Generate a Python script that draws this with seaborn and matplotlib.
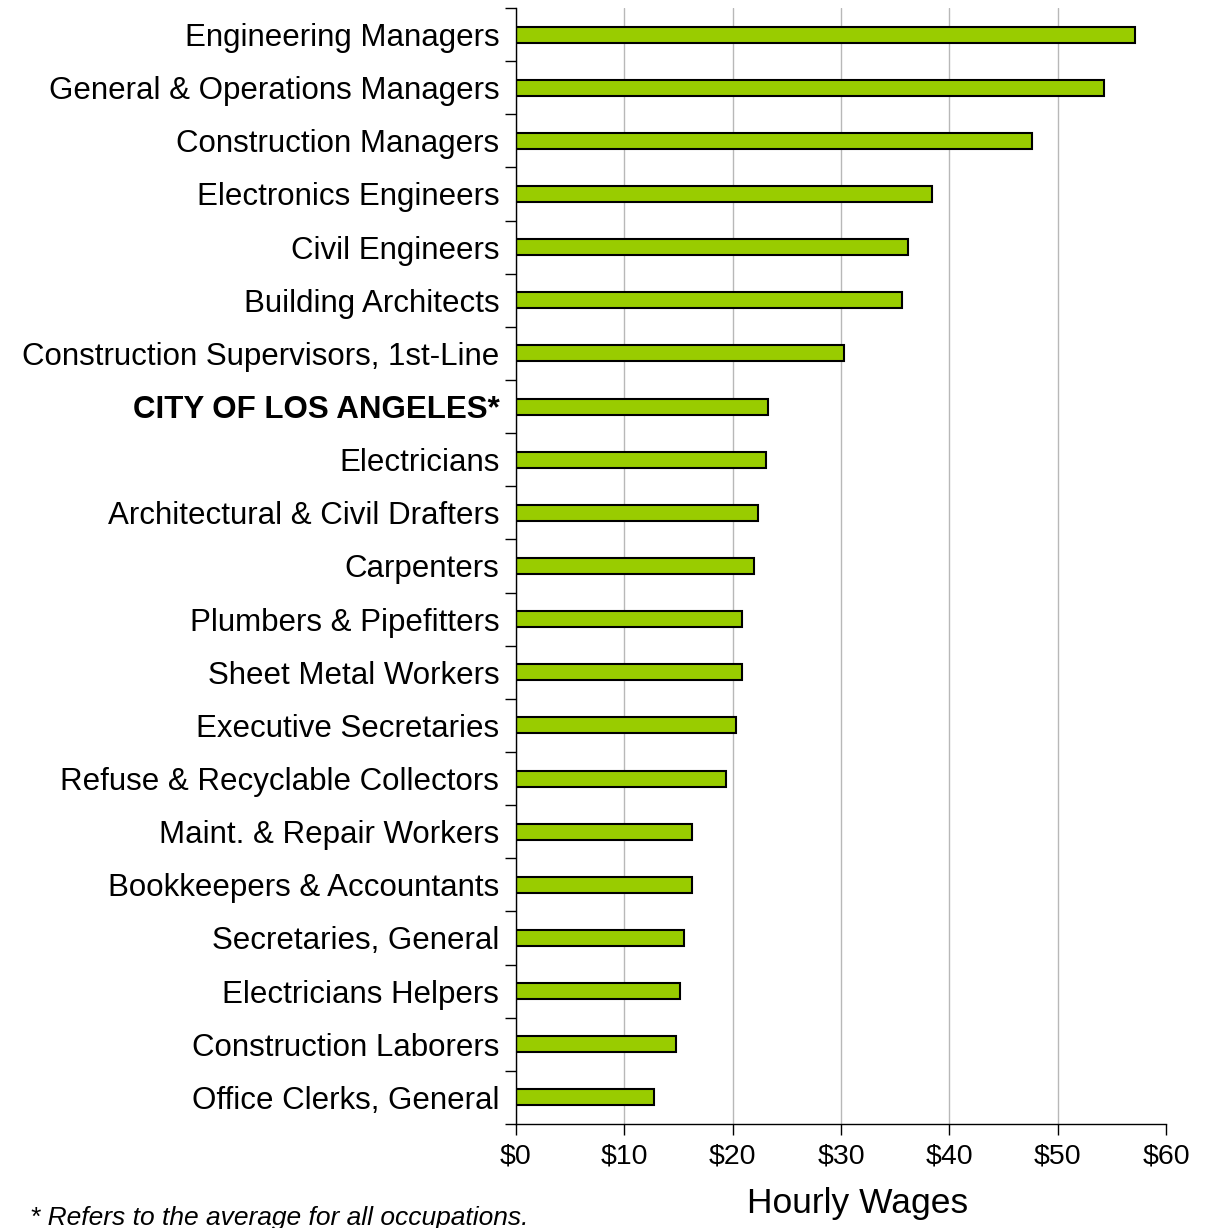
import matplotlib
matplotlib.use("Agg")
import matplotlib.pyplot as plt
import seaborn as sns
import pandas as pd
from matplotlib.ticker import FuncFormatter

occupations = [
    "Engineering Managers",
    "General & Operations Managers",
    "Construction Managers",
    "Electronics Engineers",
    "Civil Engineers",
    "Building Architects",
    "Construction Supervisors, 1st-Line",
    "CITY OF LOS ANGELES*",
    "Electricians",
    "Architectural & Civil Drafters",
    "Carpenters",
    "Plumbers & Pipefitters",
    "Sheet Metal Workers",
    "Executive Secretaries",
    "Refuse & Recyclable Collectors",
    "Maint. & Repair Workers",
    "Bookkeepers & Accountants",
    "Secretaries, General",
    "Electricians Helpers",
    "Construction Laborers",
    "Office Clerks, General",
]
hourly_wage = [57.1, 54.3, 47.6, 38.4, 36.2, 35.6, 30.3, 23.3, 23.1, 22.3, 22.0,
               20.9, 20.9, 20.3, 19.4, 16.25, 16.25, 15.5, 15.1, 14.8, 12.7]
x_ticks = [0, 10, 20, 30, 40, 50, 60]

df = pd.DataFrame({"occupation": occupations, "wage": hourly_wage})

sns.set_style("white")
plt.rcParams['font.family'] = ['Liberation Sans', 'DejaVu Sans']
plt.rcParams['text.color'] = 'black'
plt.rcParams['xtick.color'] = 'black'
plt.rcParams['ytick.color'] = 'black'
plt.rcParams['axes.labelcolor'] = 'black'

fig = plt.figure(figsize=(12.18, 12.28), dpi=100)
ax = fig.add_axes([0.4236, 0.0847, 0.5337, 0.9088])

sns.barplot(data=df, x="wage", y="occupation", orient="h", color="#99cc00",
            saturation=1, width=0.3, edgecolor="black", linewidth=1.5, ax=ax)

ax.set_xlim(0, 60)
ax.set_ylim(len(occupations) - 0.5, -0.5)
ax.set_xticks(x_ticks)
ax.xaxis.set_major_formatter(FuncFormatter(lambda v, p: f"${v:.0f}"))
ax.xaxis.grid(True, color="#b8b8b8", linewidth=1)
ax.get_xgridlines()[-1].set_visible(False)
ax.set_axisbelow(True)

# ticks between categories on the y axis, labels in between
ax.set_yticks([i - 0.5 for i in range(len(occupations) + 1)])
ax.set_yticklabels([])
ax.set_yticks(range(len(occupations)), minor=True)
ax.set_yticklabels(occupations, minor=True, fontsize=22.5)
ax.tick_params(axis="y", which="major", direction="out", length=8, width=1, left=True)
ax.tick_params(axis="y", which="minor", length=0, pad=12)
ax.tick_params(axis="x", direction="out", length=8, width=1, bottom=True,
               labelsize=20.5, pad=6)
for lbl in ax.get_yticklabels(minor=True):
    if lbl.get_text().startswith("CITY"):
        lbl.set_fontweight("bold")

for side in ["top", "right"]:
    ax.spines[side].set_visible(False)
for side in ["left", "bottom"]:
    ax.spines[side].set_color("black")
    ax.spines[side].set_linewidth(1)

ax.set_ylabel("")
ax.set_xlabel("Hourly Wages", fontsize=25.5)
ax.xaxis.set_label_coords(0.525, -0.0565)

fig.text(0.025, 0.008, "* Refers to the average for all occupations.", fontsize=19,
         style="italic", ha="left", va="center")

fig.savefig("out.png", dpi=100)
